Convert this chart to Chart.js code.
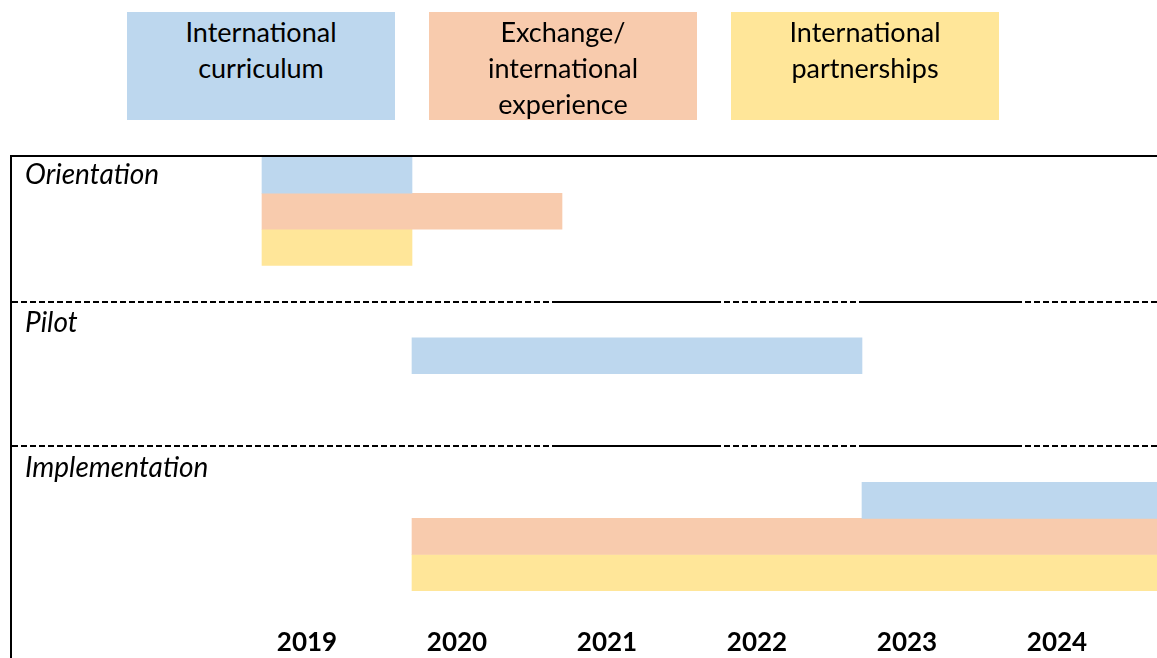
<!DOCTYPE html>
<html>
<head>
<meta charset="utf-8">
<script src="https://cdn.jsdelivr.net/npm/chart.js@4.4.1/dist/chart.umd.min.js"></script>
<style>
  html, body { margin: 0; padding: 0; background: #fff; overflow: hidden; }
  #wrap { position: relative; width: 1157px; height: 658px; }
  #timeline { position: absolute; left: 0; top: 0; }
  .key {
    position: absolute; top: 12px; width: 268px; height: 108px;
    box-sizing: border-box; padding-top: 2px;
    font-family: Lato, "Open Sans", sans-serif; font-size: 27px; line-height: 36px;
    text-align: center; color: #000;
  }
</style>
</head>
<body>
<div id="wrap">
  <canvas id="timeline" width="1157" height="658"></canvas>
  <div class="key" style="left:127px;background:#BDD7EE">International<br>curriculum</div>
  <div class="key" style="left:429px;background:#F8CBAD">Exchange/<br>international<br>experience</div>
  <div class="key" style="left:731px;background:#FFE699">International<br>partnerships</div>
</div>
<script>
// phases (rows) and year ranges per track
const phases = ["Orientation", "Pilot", "Implementation"];
const years = [2019, 2020, 2021, 2022, 2023, 2024];
const curriculum = [[2019, 2020], [2020, 2023], [2023, 2025]];
const exchange = [[2019, 2021], null, [2020, 2025]];
const partnerships = [[2019, 2020], null, [2020, 2025]];

// layout of the rows, in bar-slot units
const rowTop = [0, 4, 8];
const firstSlot = [0, 1, 1];

function track(ranges, k) {
  const pts = [];
  ranges.forEach((r, i) => {
    if (r) pts.push({ x: r, y: rowTop[i] + firstSlot[i] + k + 0.5 });
  });
  return pts;
}

const framePlugin = {
  id: "frame",
  afterDatasetsDraw(chart) {
    const ctx = chart.ctx;
    const a = chart.chartArea;
    const ys = chart.scales.y;
    ctx.save();
    ctx.strokeStyle = "#000";
    ctx.lineWidth = 2;
    ctx.setLineDash([]);
    ctx.beginPath();
    ctx.moveTo(a.left - 1, a.top - 1);
    ctx.lineTo(a.right, a.top - 1);
    ctx.moveTo(a.left - 1, a.top - 2);
    ctx.lineTo(a.left - 1, chart.height);
    ctx.stroke();

    // row dividers: dashed with solid stretches
    const solid = [[557, 715], [862, 1016]];
    [rowTop[1], rowTop[2]].forEach(v => {
      const y = Math.round(ys.getPixelForValue(v));
      let x0 = a.left;
      const parts = [];
      solid.forEach(s => { parts.push([x0, s[0], true]); parts.push([s[0], s[1], false]); x0 = s[1]; });
      parts.push([x0, a.right, true]);
      parts.forEach(p => {
        ctx.setLineDash(p[2] ? [6, 3] : []);
        ctx.beginPath();
        ctx.moveTo(p[0], y);
        ctx.lineTo(p[1], y);
        ctx.stroke();
      });
    });
    ctx.setLineDash([]);

    ctx.fillStyle = "#000";
    ctx.font = "italic 28px Lato, 'Open Sans', sans-serif";
    ctx.textBaseline = "middle";
    phases.forEach((p, i) => {
      ctx.fillText(p, a.left + 13, ys.getPixelForValue(rowTop[i] + (i === 0 ? 0.5 : 0.6)));
    });
    ctx.restore();
  }
};

new Chart(document.getElementById("timeline"), {
  type: "bar",
  data: {
    datasets: [
      { label: "International curriculum", data: track(curriculum, 0), backgroundColor: "#BDD7EE" },
      { label: "Exchange/international experience", data: track(exchange, 1), backgroundColor: "#F8CBAD" },
      { label: "International partnerships", data: track(partnerships, 2), backgroundColor: "#FFE699" }
    ]
  },
  options: {
    indexAxis: "y",
    responsive: false,
    animation: false,
    layout: { padding: { top: 157, left: 12, right: 0, bottom: 0 } },
    datasets: { bar: { barThickness: 36, grouped: false, borderWidth: 0 } },
    plugins: { legend: { display: false }, tooltip: { enabled: false } },
    scales: {
      x: {
        type: "linear",
        min: 2017.3333,
        max: 2024.9667,
        offset: false,
        grid: { display: false, drawTicks: false },
        border: { display: false },
        afterBuildTicks(axis) {
          axis.ticks = years.map(y => ({ value: y + 0.3 }));
        },
        ticks: {
          padding: 0,
          color: "#000",
          font: { family: "Lato, 'Open Sans', sans-serif", size: 26, weight: "bold" },
          callback: v => String(Math.floor(v))
        }
      },
      y: {
        type: "linear",
        reverse: true,
        offset: false,
        min: 0,
        max: 13,
        display: false
      }
    }
  },
  plugins: [framePlugin]
});
</script>
</body>
</html>
